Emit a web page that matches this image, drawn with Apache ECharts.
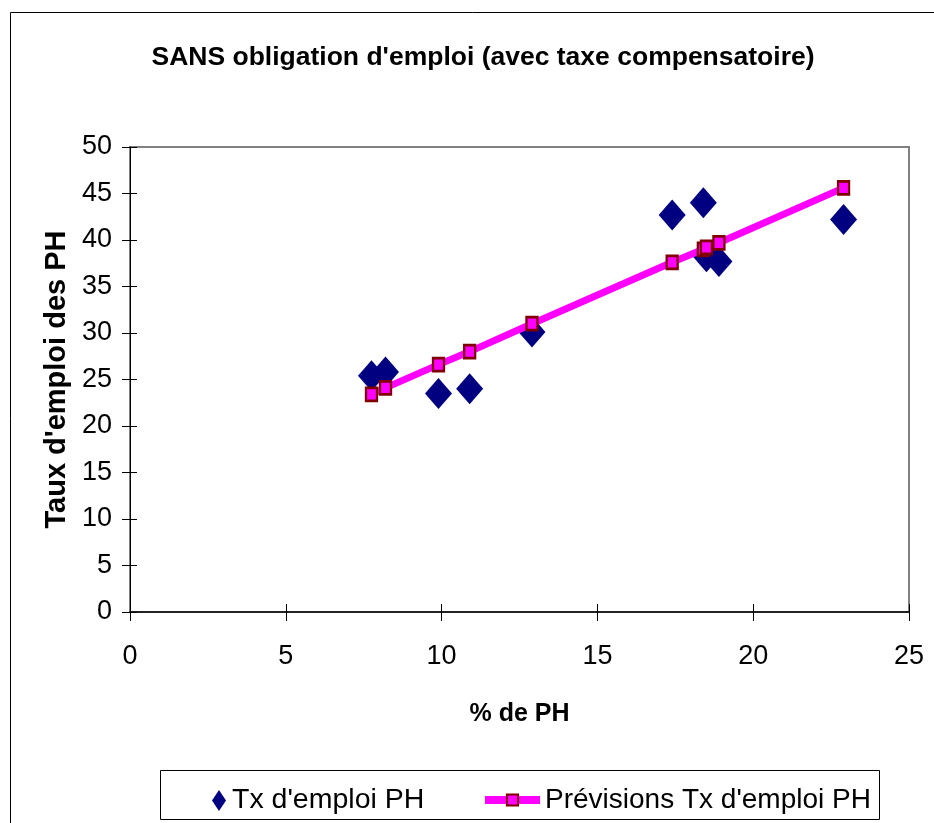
<!DOCTYPE html>
<html>
<head>
<meta charset="utf-8">
<script src="https://cdn.jsdelivr.net/npm/echarts@6/dist/echarts.min.js"></script>
<style>
html,body{margin:0;padding:0;background:#fff;}
#chart{width:934px;height:823px;}
</style>
</head>
<body>
<div id="chart"></div>
<script>
// Data
var pctPH = [7.75, 8.2, 9.9, 10.9, 12.9, 17.4, 18.4, 18.5, 18.9, 22.9];
var txEmploi = [25.4, 25.8, 23.5, 24.0, 30.1, 42.7, 44.0, 38.2, 37.7, 42.2];
var previsions = [23.4, 24.1, 26.6, 28.0, 31.0, 37.6, 39.0, 39.2, 39.7, 45.6];
var xTicks = [0, 5, 10, 15, 20, 25];
var yTicks = [0, 5, 10, 15, 20, 25, 30, 35, 40, 45, 50];

var FONT = '"Liberation Sans", Arial, sans-serif';

var chart = echarts.init(document.getElementById('chart'), null, {renderer: 'canvas'});

var scatterData = pctPH.map(function (x, i) { return [x, txEmploi[i]]; });
var lineData = pctPH.map(function (x, i) { return [x, previsions[i]]; });

var axisCommon = {
  type: 'value',
  splitLine: {show: false}
};

var option = {
  backgroundColor: '#fff',
  animation: false,
  title: {
    text: "SANS obligation d'emploi (avec taxe compensatoire)",
    left: 478, top: 39, textAlign: 'center',
    textStyle: {fontFamily: FONT, fontWeight: 'bold', fontSize: 26.5, color: '#000'}
  },
  grid: {
    left: 130, top: 147, width: 779, height: 465,
    show: true, borderColor: '#808080', borderWidth: 2, backgroundColor: 'transparent'
  },
  xAxis: [
    Object.assign({}, axisCommon, {
      min: xTicks[0], max: xTicks[xTicks.length - 1], interval: 5,
      position: 'bottom',
      name: '% de PH', nameLocation: 'middle', nameGap: 90,
      nameTextStyle: {fontFamily: FONT, fontWeight: 'bold', fontSize: 25, color: '#000'},
      axisLine: {show: true, lineStyle: {color: '#222', width: 2}},
      axisTick: {show: true, inside: false, length: 9, lineStyle: {color: '#000'}},
      axisLabel: {fontFamily: FONT, fontSize: 27, color: '#000', margin: 31}
    }),
    Object.assign({}, axisCommon, {
      min: xTicks[0], max: xTicks[xTicks.length - 1], interval: 5,
      position: 'bottom', offset: 0,
      axisLine: {show: false},
      axisTick: {show: true, inside: true, length: 8, lineStyle: {color: '#000'}},
      axisLabel: {show: false}
    })
  ],
  yAxis: [
    Object.assign({}, axisCommon, {
      min: yTicks[0], max: yTicks[yTicks.length - 1], interval: 5,
      position: 'left',
      name: "Taux d'emploi des PH", nameLocation: 'middle', nameGap: 59, nameRotate: 90,
      nameTextStyle: {fontFamily: FONT, fontWeight: 'bold', fontSize: 29, color: '#000'},
      axisLine: {show: true, lineStyle: {color: '#000', width: 1}},
      axisTick: {show: true, inside: false, length: 8, lineStyle: {color: '#000'}},
      axisLabel: {fontFamily: FONT, fontSize: 27, color: '#000', margin: 18}
    }),
    Object.assign({}, axisCommon, {
      min: yTicks[0], max: yTicks[yTicks.length - 1], interval: 5,
      position: 'left', offset: 0,
      axisLine: {show: false},
      axisTick: {show: true, inside: true, length: 7, lineStyle: {color: '#000'}},
      axisLabel: {show: false}
    })
  ],
  legend: [
    {
      data: ["Tx d'emploi PH"],
      left: 207, top: 781, orient: 'horizontal',
      itemWidth: 14, itemHeight: 21, itemGap: 0,
      textStyle: {fontFamily: FONT, fontSize: 28.5, color: '#000', padding: [0, 0, 0, 1]}
    },
    {
      data: [{name: 'Prévisions Tx d\'emploi PH', lineStyle: {color: '#FF00FF', width: 8}}],
      left: 476, top: 781, orient: 'horizontal',
      itemWidth: 55, itemHeight: 14, itemGap: 0,
      textStyle: {fontFamily: FONT, fontSize: 28, color: '#000', padding: [0, 0, 0, 0]}
    }
  ],
  graphic: [
    {type: 'rect', left: 8, top: 10, shape: {width: 1000, height: 1000}, style: {fill: 'none', stroke: '#000', lineWidth: 1}, silent: true, z: -1},
    {type: 'rect', left: 160, top: 770, shape: {width: 719, height: 49}, style: {fill: '#fff', stroke: '#000', lineWidth: 1}, silent: true, z: -1}
  ],
  series: [
    {
      name: "Tx d'emploi PH",
      type: 'scatter',
      xAxisIndex: 0, yAxisIndex: 0,
      symbol: 'diamond', symbolSize: [27, 31],
      itemStyle: {color: '#000080', opacity: 1},
      data: scatterData,
      z: 2
    },
    {
      name: 'Prévisions Tx d\'emploi PH',
      type: 'line',
      xAxisIndex: 0, yAxisIndex: 0,
      symbol: 'rect', symbolSize: [11, 13], showSymbol: true,
      lineStyle: {color: '#FF00FF', width: 7},
      itemStyle: {color: '#FF00FF', borderColor: '#800000', borderWidth: 2.5, opacity: 1},
      emphasis: {disabled: true},
      data: lineData,
      z: 3
    }
  ]
};
chart.setOption(option);
</script>
</body>
</html>
